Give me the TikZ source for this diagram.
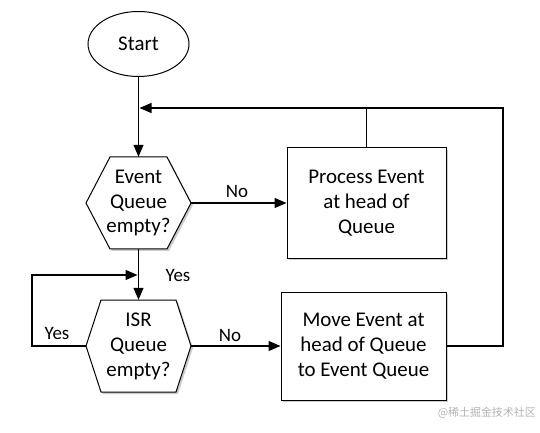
\documentclass[tikz,border=0pt]{standalone}
\usepackage{fontspec}
\setmainfont{Carlito}
\newfontfamily\cjk{Noto Sans CJK SC}
\usetikzlibrary{arrows.meta,shadows,shapes.geometric}
\begin{document}
\begin{tikzpicture}[x=1bp,y=-1bp,
  font=\fontsize{21}{25}\selectfont,
  line/.style={line width=1.2bp, draw=black},
  arr/.style={line, -{Triangle[length=12bp,width=10bp]}},
  shad/.style={drop shadow={shadow xshift=2bp, shadow yshift=-2bp, fill=black!40, opacity=.5}},
  box/.style={draw, line width=1bp, fill=white, shad, align=center, inner sep=0},
  hexpath/.style={draw, line width=1bp, fill=white, shad},
  hextext/.style={align=center, inner sep=0, minimum width=105bp, minimum height=92bp},
  lbl/.style={font=\fontsize{19}{21}\selectfont, inner sep=0}]
\useasboundingbox (0,0) rectangle (540,433);

\node[ellipse, draw, line width=1bp, fill=white, minimum width=101bp, minimum height=65bp, inner sep=0] (start) at (138.5,44) {Start};

% Event hexagon
\draw[hexpath] (86,203) -- (110,157) -- (167,157) -- (191,203) -- (167,249) -- (110,249) -- cycle;
\node[hextext] (ev) at (138.5,203) {Event\\Queue\\empty?};

% ISR hexagon
\draw[hexpath] (86,346) -- (101,300) -- (176,300) -- (191,346) -- (176,392) -- (101,392) -- cycle;
\node[hextext] (isr) at (138.5,346) {ISR\\Queue\\empty?};

\node[box, minimum width=159bp, minimum height=110bp] (proc) at (366.5,203) {Process Event\\at head of\\Queue};
\node[box, minimum width=165bp, minimum height=108bp] (move) at (363.5,346) {Move Event at\\head of Queue\\to Event Queue};

\coordinate (j1) at (139.5,108);
\coordinate (j2) at (137.5,275);
\coordinate (r1) at (503,346);
\coordinate (l1) at (32,346);

\draw[arr] (start) -- (ev.north);
\draw[arr] (ev.east) -- (proc.west);
\draw[arr] (ev.south) -- (isr.north);
\draw[arr] (isr.east) -- (move.west);
\draw[arr] (isr.west) -- (l1) |- (j2);
\draw[arr] (move.east) -- (r1) |- (j1);
\draw[line] (proc.north) -- (proc.north |- j1);

\node[lbl] (no1) at (237,191) {No};
\node[lbl] (no2) at (230,335) {No};
\node[lbl] (yes1) at (57,333) {Yes};
\node[lbl] (yes2) at (178,275) {Yes};

\node[font=\cjk\fontsize{11}{12}\selectfont, text=black!30, anchor=east, inner sep=0] (wm) at (536,413) {@稀土掘金技术社区};
\end{tikzpicture}
\end{document}
